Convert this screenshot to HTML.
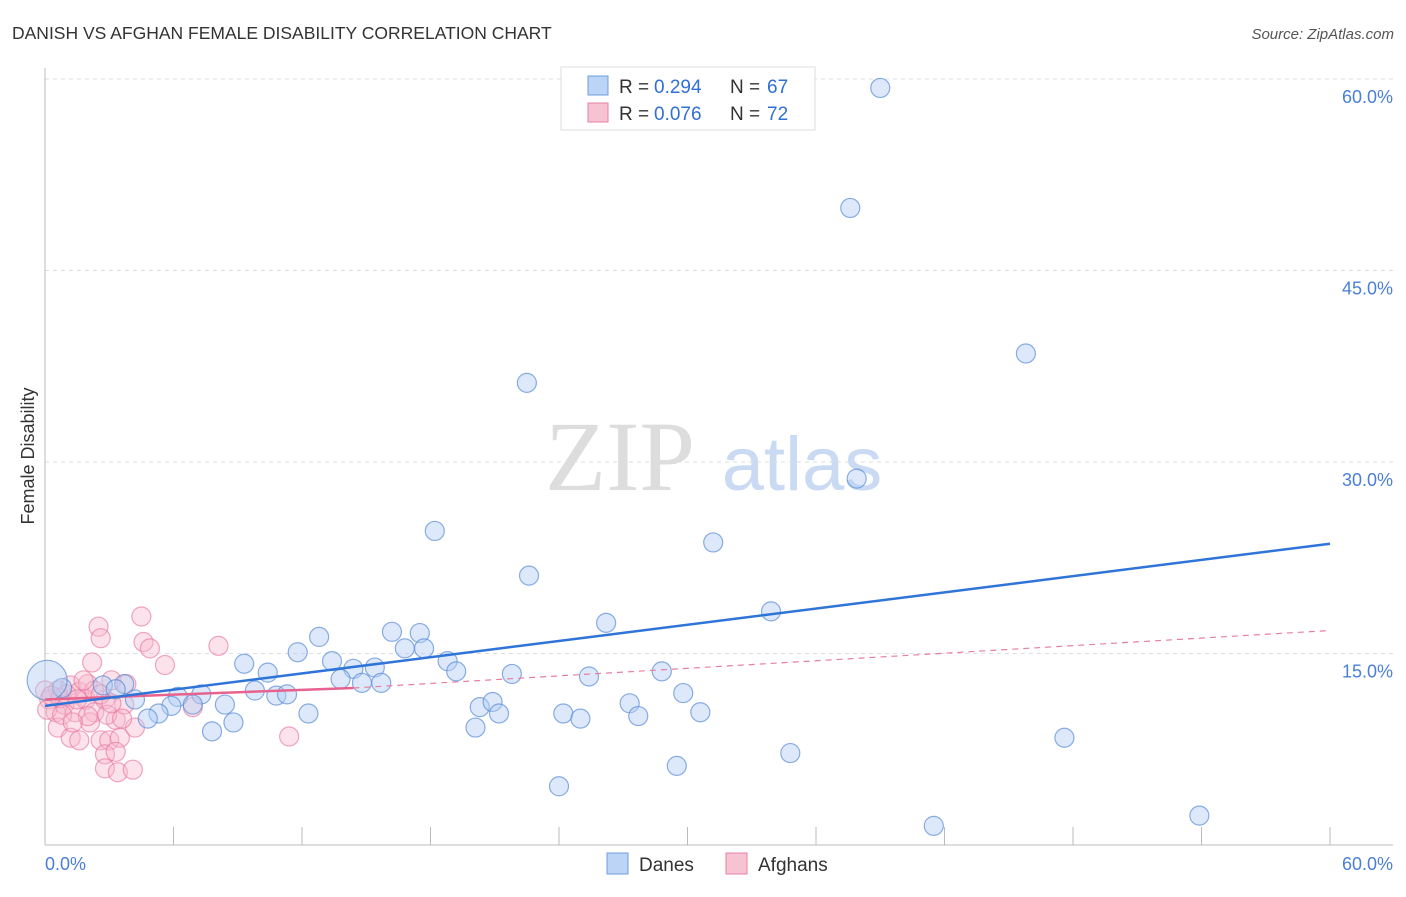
<!DOCTYPE html>
<html><head><meta charset="utf-8"><style>
body{margin:0;background:#fff;font-family:"Liberation Sans",sans-serif}
</style></head><body>
<svg width="1406" height="892" xmlns="http://www.w3.org/2000/svg" font-family="Liberation Sans, sans-serif">
<text x="12" y="39" font-size="17.5" fill="#333">DANISH VS AFGHAN FEMALE DISABILITY CORRELATION CHART</text>
<text x="1394" y="39" font-size="15" fill="#555" font-style="italic" text-anchor="end">Source: ZipAtlas.com</text>
<text x="620" y="490" font-size="100" fill="#ddd" font-family="Liberation Serif, serif" text-anchor="middle">ZIP</text>
<text x="802" y="490" font-size="76" fill="#c9daf2" text-anchor="middle">atlas</text>
<g id="grid"></g><g id="axes"></g><g id="pts"></g><g id="trends"></g>
<text transform="translate(34,456) rotate(-90)" font-size="18" fill="#333" text-anchor="middle">Female Disability</text>
<text x="45" y="870" font-size="18" fill="#4a7fd6">0.0%</text>
<text x="1393" y="870" font-size="18" fill="#4a7fd6" text-anchor="end">60.0%</text>
<g>
<rect x="561" y="67" width="254" height="63" fill="#fff" stroke="#ddd"/>
<rect x="588" y="76" width="20" height="19" fill="#bcd4f5" stroke="#6d9de0"/>
<rect x="588" y="103" width="20" height="19" fill="#f7c3d3" stroke="#e87fa0"/>
<text x="619" y="93" font-size="19" fill="#333">R =</text>
<text x="654" y="93" font-size="19" fill="#2f6fd6">0.294</text>
<text x="730" y="93" font-size="19" fill="#333">N =</text>
<text x="767" y="93" font-size="19" fill="#2f6fd6">67</text>
<text x="619" y="120" font-size="19" fill="#333">R =</text>
<text x="654" y="120" font-size="19" fill="#2f6fd6">0.076</text>
<text x="730" y="120" font-size="19" fill="#333">N =</text>
<text x="767" y="120" font-size="19" fill="#2f6fd6">72</text>
</g>
<g>
<rect x="607" y="853" width="21" height="21" fill="#bcd4f5" stroke="#6d9de0"/>
<text x="639" y="871" font-size="19" fill="#333">Danes</text>
<rect x="726" y="853" width="21" height="21" fill="#f7c3d3" stroke="#e87fa0"/>
<text x="758" y="871" font-size="19" fill="#333">Afghans</text>
</g>
</svg>
<script>
const yTicks=[15,30,45,60];
const xTicks=[0,6,12,18,24,30,36,42,48,54,60];
const daneX=[39.0,37.6,45.8,22.5,37.9,18.2,31.2,22.6,33.9,26.2,16.2,17.5,12.8,16.8,17.7,11.8,18.8,9.3,13.4,15.4,14.4,10.4,13.8,14.8,15.7,19.2,21.8,25.4,28.8,3.7,0.8,2.7,3.3,7.3,6.2,9.8,10.8,11.3,4.2,6.9,5.9,8.4,27.3,29.8,20.3,20.9,21.2,12.3,24.2,25.0,27.7,30.6,5.3,4.8,8.8,7.8,20.1,47.6,34.8,29.5,24.0,41.5,53.9];
const daneY=[59.3,49.9,38.5,36.2,28.7,24.6,23.7,21.1,18.3,17.4,16.7,16.6,16.3,15.4,15.4,15.1,14.4,14.2,14.4,13.9,13.8,13.5,13.0,12.7,12.7,13.6,13.4,13.2,13.6,12.6,12.3,12.5,12.2,11.8,11.6,12.1,11.7,11.8,11.4,11.0,10.9,11.0,11.1,11.9,10.8,11.2,10.3,10.3,10.3,9.9,10.1,10.4,10.3,9.9,9.6,8.9,9.2,8.4,7.2,6.2,4.6,1.5,2.3];
const afgX=[4.5,2.5,2.6,4.6,4.9,8.1,2.2,5.6,11.4,6.9,3.1,3.8,0.6,1.2,1.6,2.0,0.2,0.5,0.9,1.4,1.9,2.3,2.8,3.3,3.7,0.6,1.2,1.6,2.1,2.6,3.0,3.5,4.2,2.8,3.3,2.8,3.4,4.1,0,0.1,0.7,1.0,1.5,2.0,2.3,2.9,3.6,0.8,0.3,1.3,2.6,1.8,3.1];
const afgY=[17.9,17.1,16.2,15.9,15.4,15.6,14.3,14.1,8.5,10.8,12.9,12.6,12.1,12.5,12.0,12.6,11.4,10.4,11.0,10.4,11.4,10.4,11.4,9.8,11.0,9.2,8.4,8.2,9.6,8.2,8.2,8.4,9.2,7.1,7.3,6.0,5.7,5.9,12.1,10.6,11.5,11.8,11.4,10.1,12.1,10.2,9.9,10.2,11.7,9.6,11.8,12.9,11.1];
const daneTrend=[10.9,23.6];
const afgTrendX=[0,14.4,60];
const afgTrendY=[11.4,12.3,16.8];
const NS="http://www.w3.org/2000/svg";
const sx=v=>45+v/60*1285, sy=v=>845-v/15*191.5;
function mk(t,a,p){const e=document.createElementNS(NS,t);for(const k in a)e.setAttribute(k,a[k]);p.appendChild(e);return e;}
const grid=document.getElementById('grid'),axes=document.getElementById('axes'),pts=document.getElementById('pts'),tr=document.getElementById('trends');
yTicks.forEach(v=>{
 const l=mk('line',{x1:45,x2:1393,y1:sy(v),y2:sy(v),stroke:'#ddd','stroke-dasharray':'4,4'},grid);
 
 
 const t=mk('text',{x:1393,y:sy(v)+24,'font-size':18,fill:'#4a7fd6','text-anchor':'end'},grid);
 t.textContent=v.toFixed(1)+'%';
 
 
});
const xa=mk('line',{x1:45,x2:1393,y1:845,y2:845,stroke:'#bbb'},axes);


const ya=mk('line',{x1:45,x2:45,y1:68,y2:845,stroke:'#bbb'},axes);


xTicks.forEach(v=>{
 const l=mk('line',{x1:sx(v),x2:sx(v),y1:827,y2:845,stroke:'#bbb'},axes);
 
 
});
afgX.forEach((x,i)=>{
 const c=mk('circle',{cx:sx(x),cy:sy(afgY[i]),r:9.5,fill:'rgba(247,185,204,0.4)',stroke:'rgba(232,120,156,0.65)','stroke-width':1.2},pts);
 
 
});
daneX.forEach((x,i)=>{
 const c=mk('circle',{cx:sx(x),cy:sy(daneY[i]),r:9.5,fill:'rgba(180,206,243,0.45)',stroke:'rgba(90,140,215,0.7)','stroke-width':1.2},pts);
 
 
});
const big=mk('circle',{cx:sx(0.1),cy:sy(12.9),r:20,fill:'rgba(180,206,243,0.45)',stroke:'rgba(90,140,215,0.7)','stroke-width':1.2},pts);


const pd=mk('line',{x1:sx(afgTrendX[1]),y1:sy(afgTrendY[1]),x2:sx(afgTrendX[2]),y2:sy(afgTrendY[2]),stroke:'#e87fa0','stroke-width':1.2,'stroke-dasharray':'6,5'},tr);


const ps=mk('line',{x1:sx(afgTrendX[0]),y1:sy(afgTrendY[0]),x2:sx(afgTrendX[1]),y2:sy(afgTrendY[1]),stroke:'#e8628e','stroke-width':2.5},tr);


const bl=mk('line',{x1:sx(0),y1:sy(daneTrend[0]),x2:sx(60),y2:sy(daneTrend[1]),stroke:'#2f74d8','stroke-width':2.5},tr);


</script>
</body></html>
